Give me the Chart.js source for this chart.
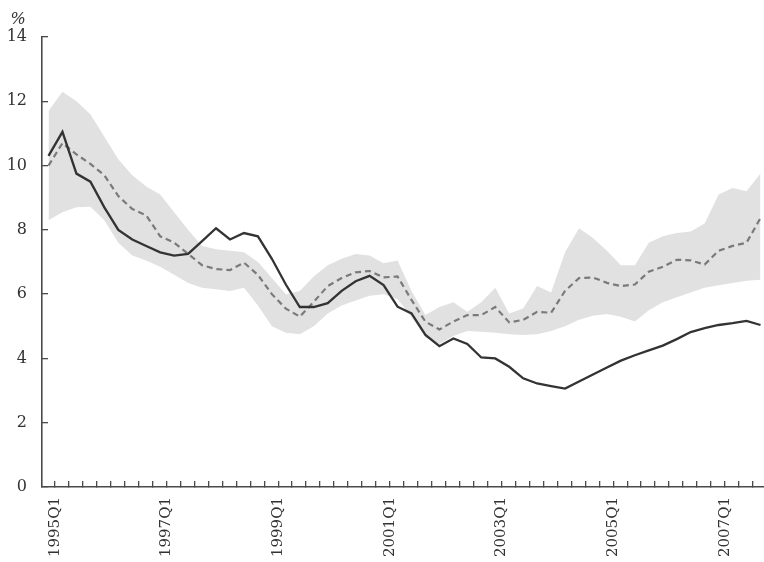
<!DOCTYPE html>
<html>
<head>
<meta charset="utf-8">
<script src="https://cdn.jsdelivr.net/npm/chart.js@4.4.1/dist/chart.umd.min.js"></script>
<style>
html,body{margin:0;padding:0;background:#fff;}
#wrap{width:764px;height:562px;position:relative;}
</style>
</head>
<body>
<div id="wrap"><canvas id="c"></canvas></div>
<script>
const categories = [
  '1995Q1','1995Q2','1995Q3','1995Q4','1996Q1','1996Q2','1996Q3','1996Q4',
  '1997Q1','1997Q2','1997Q3','1997Q4','1998Q1','1998Q2','1998Q3','1998Q4',
  '1999Q1','1999Q2','1999Q3','1999Q4','2000Q1','2000Q2','2000Q3','2000Q4',
  '2001Q1','2001Q2','2001Q3','2001Q4','2002Q1','2002Q2','2002Q3','2002Q4',
  '2003Q1','2003Q2','2003Q3','2003Q4','2004Q1','2004Q2','2004Q3','2004Q4',
  '2005Q1','2005Q2','2005Q3','2005Q4','2006Q1','2006Q2','2006Q3','2006Q4',
  '2007Q1','2007Q2','2007Q3','2007Q4'
];
const tickLabels = ['1995Q1','1997Q1','1999Q1','2001Q1','2003Q1','2005Q1','2007Q1'];
const yTicks = [0, 2, 4, 6, 8, 10, 12, 14];

const actual = [10.3, 11.05, 9.75, 9.5, 8.7, 8.0, 7.7, 7.5, 7.3, 7.2,
  7.25, 7.65, 8.05, 7.7, 7.9, 7.8, 7.1, 6.3, 5.6, 5.6,
  5.72, 6.1, 6.4, 6.57, 6.28, 5.61, 5.4, 4.73, 4.38, 4.62,
  4.45, 4.03, 4.0, 3.74, 3.38, 3.22, 3.14, 3.06, 3.28, 3.5,
  3.72, 3.93, 4.1, 4.25, 4.4, 4.6, 4.82, 4.94, 5.04, 5.1, 5.17, 5.04];

const forecast = [10.0, 10.7, 10.35, 10.05, 9.7, 9.05, 8.65, 8.45, 7.8, 7.6,
  7.25, 6.9, 6.78, 6.75, 6.98, 6.6, 6.0, 5.55, 5.3, 5.76,
  6.25, 6.5, 6.68, 6.72, 6.52, 6.55, 5.82, 5.14, 4.9, 5.15,
  5.35, 5.35, 5.6, 5.12, 5.2, 5.45, 5.42, 6.1, 6.5, 6.52,
  6.35, 6.25, 6.3, 6.7, 6.85, 7.07, 7.05, 6.92, 7.35, 7.5, 7.6, 8.37];

const upper = [11.7, 12.3, 12.0, 11.6, 10.9, 10.2, 9.7, 9.35, 9.1, 8.55,
  8.0, 7.5, 7.4, 7.35, 7.3, 7.0, 6.5, 6.0, 6.1, 6.55,
  6.9, 7.1, 7.25, 7.2, 6.96, 7.05, 6.1, 5.35, 5.6, 5.75,
  5.45, 5.75, 6.2, 5.4, 5.55, 6.25, 6.05, 7.3, 8.05, 7.75,
  7.35, 6.9, 6.9, 7.6, 7.8, 7.9, 7.95, 8.2, 9.1, 9.3, 9.2, 9.75];

const lower = [8.3, 8.55, 8.7, 8.72, 8.3, 7.6, 7.2, 7.05, 6.85, 6.6,
  6.35, 6.2, 6.15, 6.1, 6.2, 5.65, 5.0, 4.8, 4.75, 5.0,
  5.4, 5.65, 5.8, 5.95, 6.0, 5.85, 5.3, 4.65, 4.45, 4.7,
  4.85, 4.83, 4.8, 4.75, 4.73, 4.75, 4.85, 5.0, 5.2, 5.33,
  5.38, 5.3, 5.15, 5.5, 5.75, 5.9, 6.05, 6.2, 6.28, 6.35, 6.42, 6.45];

const toPts = arr => arr.map((v, i) => ({x: i, y: v}));

const FONT = "'DejaVu Serif', serif";
const TEXT = '#333333';
const AXIS = '#4a4a4a';

const unitPlugin = {
  id: 'unitLabel',
  afterDraw(chart) {
    const ys = chart.scales.y;
    const ctx = chart.ctx;
    ctx.save();
    ctx.font = 'italic 16px ' + FONT;
    ctx.fillStyle = TEXT;
    ctx.textAlign = 'center';
    ctx.textBaseline = 'middle';
    ctx.fillText('%', ys.right - 24, ys.getPixelForValue(14) - 17);
    ctx.restore();
  }
};

new Chart(document.getElementById('c'), {
  type: 'line',
  data: {
    datasets: [
      {
        label: 'upper',
        data: toPts(upper),
        borderWidth: 0,
        borderColor: 'rgba(0,0,0,0)',
        backgroundColor: '#e1e1e1',
        pointRadius: 0,
        fill: '+1',
        order: 3
      },
      {
        label: 'lower',
        data: toPts(lower),
        borderWidth: 0,
        borderColor: 'rgba(0,0,0,0)',
        pointRadius: 0,
        fill: false,
        order: 3
      },
      {
        label: 'forecast',
        data: toPts(forecast),
        borderColor: '#7a7a7a',
        borderWidth: 2.2,
        borderDash: [6, 4],
        pointRadius: 0,
        fill: false,
        order: 2
      },
      {
        label: 'actual',
        data: toPts(actual),
        borderColor: '#333333',
        borderWidth: 2.3,
        pointRadius: 0,
        fill: false,
        order: 1
      }
    ]
  },
  options: {
    responsive: true,
    maintainAspectRatio: false,
    animation: false,
    events: [],
    layout: { padding: { top: 37, right: 0, left: 0, bottom: 0 } },
    elements: { line: { tension: 0 } },
    plugins: {
      legend: { display: false },
      tooltip: { enabled: false },
      title: { display: false }
    },
    scales: {
      x: {
        type: 'linear',
        min: -0.466,
        max: 51.25,
        afterBuildTicks(scale) {
          scale.ticks = categories.map((c, i) => ({ value: i + 0.45 }))
            .filter(t => t.value <= scale.max);
        },
        afterFit(scale) {
          scale.height = 75;
          scale.paddingLeft = 0;
          scale.paddingRight = 0;
        },
        grid: {
          display: true,
          drawOnChartArea: false,
          drawTicks: true,
          tickLength: -6,
          color: AXIS,
          lineWidth: 1.3
        },
        border: { display: true, color: AXIS, width: 1.6 },
        ticks: {
          autoSkip: false,
          minRotation: 90,
          maxRotation: 90,
          padding: 16,
          color: TEXT,
          font: { family: FONT, size: 15 },
          callback(value) {
            const i = Math.round(value - 0.45);
            const lab = categories[i];
            return tickLabels.includes(lab) ? lab : '';
          }
        }
      },
      y: {
        type: 'linear',
        min: 0,
        max: 14,
        afterBuildTicks(scale) {
          scale.ticks = yTicks.map(v => ({ value: v }));
        },
        afterFit(scale) {
          scale.width = 42;
          scale.paddingTop = 0;
          scale.paddingBottom = 0;
        },
        grid: {
          display: true,
          drawOnChartArea: false,
          drawTicks: true,
          tickLength: -6,
          color: AXIS,
          lineWidth: 1.3
        },
        border: { display: true, color: AXIS, width: 1.6 },
        ticks: {
          padding: 21,
          color: TEXT,
          font: { family: FONT, size: 16 },
          callback(value) { return String(value); }
        }
      }
    }
  },
  plugins: [unitPlugin]
});
</script>
</body>
</html>
